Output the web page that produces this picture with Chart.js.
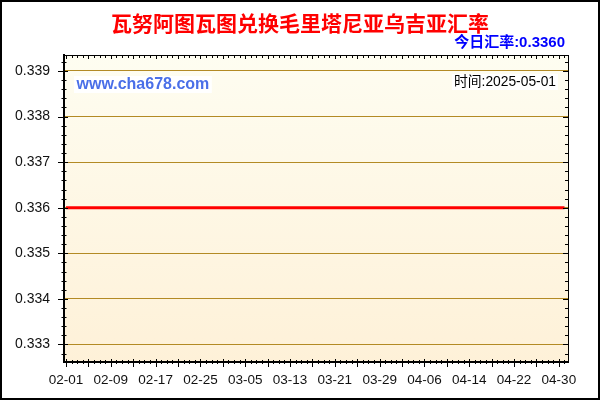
<!DOCTYPE html>
<html>
<head>
<meta charset="utf-8">
<script src="https://cdn.jsdelivr.net/npm/chart.js@4/dist/chart.umd.min.js"></script>
<style>
html,body{margin:0;padding:0;background:#fff;}
#wrap{width:600px;height:400px;position:relative;}
</style>
</head>
<body>
<div id="wrap"><canvas id="c" width="600" height="400"></canvas></div>
<script>
const titleText = "瓦努阿图瓦图兑换毛里塔尼亚乌吉亚汇率";
const todayText = "今日汇率:0.3360";
const siteText = "www.cha678.com";
const timeText = "时间:2025-05-01";

const dates = [
"02-01","02-02","02-03","02-04","02-05","02-06","02-07","02-08","02-09","02-10",
"02-11","02-12","02-13","02-14","02-15","02-16","02-17","02-18","02-19","02-20",
"02-21","02-22","02-23","02-24","02-25","02-26","02-27","02-28",
"03-01","03-02","03-03","03-04","03-05","03-06","03-07","03-08","03-09","03-10",
"03-11","03-12","03-13","03-14","03-15","03-16","03-17","03-18","03-19","03-20",
"03-21","03-22","03-23","03-24","03-25","03-26","03-27","03-28","03-29","03-30","03-31",
"04-01","04-02","04-03","04-04","04-05","04-06","04-07","04-08","04-09","04-10",
"04-11","04-12","04-13","04-14","04-15","04-16","04-17","04-18","04-19","04-20",
"04-21","04-22","04-23","04-24","04-25","04-26","04-27","04-28","04-29","04-30",
"05-01"];

const rates = [
0.336,0.336,0.336,0.336,0.336,0.336,0.336,0.336,0.336,0.336,
0.336,0.336,0.336,0.336,0.336,0.336,0.336,0.336,0.336,0.336,
0.336,0.336,0.336,0.336,0.336,0.336,0.336,0.336,
0.336,0.336,0.336,0.336,0.336,0.336,0.336,0.336,0.336,0.336,
0.336,0.336,0.336,0.336,0.336,0.336,0.336,0.336,0.336,0.336,
0.336,0.336,0.336,0.336,0.336,0.336,0.336,0.336,0.336,0.336,0.336,
0.336,0.336,0.336,0.336,0.336,0.336,0.336,0.336,0.336,0.336,
0.336,0.336,0.336,0.336,0.336,0.336,0.336,0.336,0.336,0.336,
0.336,0.336,0.336,0.336,0.336,0.336,0.336,0.336,0.336,0.336,
0.336];

const yTicks = [0.333,0.334,0.335,0.336,0.337,0.338,0.339];
const xLabelDates = ["02-01","02-09","02-17","02-25","03-05","03-13","03-21","03-29","04-06","04-14","04-22","04-30"];

const points = rates.map((v,i)=>({x:i,y:v}));

const decor = {
  id:'decor',
  beforeDraw(chart){
    const {ctx, chartArea:a} = chart;
    ctx.save();
    const g = ctx.createLinearGradient(0,a.top,0,a.bottom);
    g.addColorStop(0,'#FEFDF1');
    g.addColorStop(1,'#FEF1D8');
    ctx.fillStyle = g;
    ctx.fillRect(a.left,a.top,a.right-a.left,a.bottom-a.top);
    ctx.restore();
  },
  afterDraw(chart){
    const {ctx, chartArea:a, scales} = chart;
    const xs = scales.x, ys = scales.y;
    ctx.save();
    ctx.strokeStyle = '#000';
    ctx.lineWidth = 1;
    ctx.beginPath();
    ctx.moveTo(a.left, a.top+0.5); ctx.lineTo(a.right+0.5, a.top+0.5);
    ctx.moveTo(a.right+0.5, a.top); ctx.lineTo(a.right+0.5, a.bottom);
    ctx.stroke();
    ctx.beginPath();
    for(let k=3328;k<=3392;k+=2){
      const y = Math.round(ys.getPixelForValue(k/10000))+0.5;
      const major = k%10===0;
      ctx.moveTo(a.left-(major?6:2.5), y); ctx.lineTo(a.left+(major?4:2.5), y);
      ctx.moveTo(a.right-(major?5:3), y); ctx.lineTo(a.right, y);
    }
    for(let i=0;i<dates.length;i++){
      const x = Math.round(xs.getPixelForValue(i))+0.5;
      const major = i%4===0;
      ctx.moveTo(x, a.bottom-(major?3:2)); ctx.lineTo(x, a.bottom+(major?5:2));
      ctx.moveTo(x, a.top); ctx.lineTo(x, a.top+(major?4:3));
    }
    ctx.stroke();
    ctx.lineWidth = 2;
    ctx.strokeRect(1,1,598,398);

    ctx.textAlign = 'center';
    ctx.textBaseline = 'middle';
    ctx.font = 'bold 21px "Noto Sans CJK SC", sans-serif';
    ctx.fillStyle = '#FF0000';
    ctx.fillText(titleText, 300, 23);
    ctx.textAlign = 'right';
    ctx.font = 'bold 15px "Liberation Sans", "Noto Sans CJK SC", sans-serif';
    ctx.fillStyle = '#0000FF';
    ctx.fillText(todayText, 565, 43);
    ctx.font = 'bold 16px "Liberation Sans", sans-serif';
    ctx.textAlign = 'left';
    const sw = ctx.measureText(siteText).width;
    ctx.fillStyle = '#fff';
    ctx.fillRect(74, 76, sw+5, 17);
    ctx.fillStyle = '#4A6FE8';
    ctx.fillText(siteText, 76.5, 85);
    ctx.font = '13.8px "Liberation Sans", "Noto Sans CJK SC", sans-serif';
    ctx.textAlign = 'right';
    const tw = ctx.measureText(timeText).width;
    ctx.fillStyle = '#fff';
    ctx.fillRect(556-tw-2, 74, tw+4, 16);
    ctx.fillStyle = '#000';
    ctx.fillText(timeText, 556, 82);
    ctx.restore();
  }
};

new Chart(document.getElementById('c'), {
  type:'line',
  data:{
    datasets:[{
      data: points,
      borderColor:'#FF0000',
      borderWidth:3,
      pointRadius:0,
      tension:0,
      fill:false
    }]
  },
  options:{
    responsive:false,
    animation:false,
    devicePixelRatio:1,
    layout:{padding:{left:0, top:55, right:32, bottom:0}},
    plugins:{legend:{display:false}, tooltip:{enabled:false}, title:{display:false}},
    scales:{
      x:{
        type:'linear',
        min:-0.36, max:89.63,
        afterFit(s){ s.height = 38; },
        afterBuildTicks(s){ s.ticks = xLabelDates.map(d=>({value:dates.indexOf(d)})); },
        ticks:{
          autoSkip:false, maxRotation:0, padding:10,
          font:{family:'"Liberation Sans", sans-serif', size:13.5},
          color:'#111',
          callback:(v)=>dates[v]
        },
        grid:{display:false, drawTicks:false},
        border:{display:true, color:'#000', width:2}
      },
      y:{
        min:0.332616, max:0.339351,
        afterFit(s){ s.width = 64; },
        afterBuildTicks(s){ s.ticks = yTicks.map(v=>({value:v})); },
        ticks:{
          padding:14,
          font:{family:'"Liberation Sans", sans-serif', size:14},
          color:'#111',
          callback:(v)=>Number(v).toFixed(3)
        },
        grid:{color:'#B38A24', lineWidth:1, drawTicks:false},
        border:{display:true, color:'#000', width:2}
      }
    }
  },
  plugins:[decor]
});
</script>
</body>
</html>
